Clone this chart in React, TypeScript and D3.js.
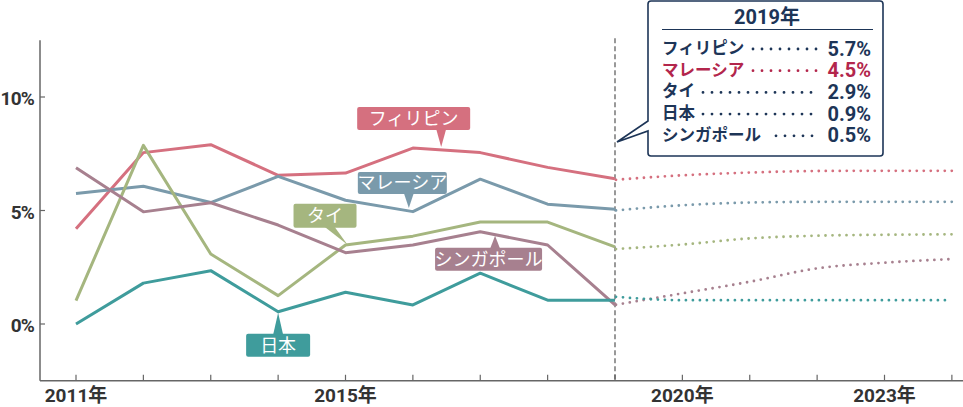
import React from "react";
import * as d3 from "d3";

const years = [2011, 2012, 2013, 2014, 2015, 2016, 2017, 2018, 2019];
const forecastYears = [2019, 2020, 2021, 2022, 2023, 2024];
const seriesNames = ["フィリピン", "マレーシア", "タイ", "シンガポール", "日本"];
const seriesColors = ["#d5707f", "#7a9aab", "#a5b67f", "#a7808f", "#3f9c9c"];
const philippines = [4.2, 7.55, 7.9, 6.55, 6.65, 7.75, 7.55, 6.9, 6.4];
const malaysia = [5.75, 6.07, 5.35, 6.5, 5.45, 4.95, 6.38, 5.28, 5.06];
const thailand = [1.03, 7.87, 3.08, 1.25, 3.48, 3.87, 4.49, 4.49, 3.4];
const singapore = [6.88, 4.94, 5.34, 4.36, 3.14, 3.48, 4.06, 3.48, 0.84];
const japan = [0.0, 1.8, 2.35, 0.54, 1.4, 0.84, 2.24, 1.05, 1.05];
const philippinesF = [6.35, 6.55, 6.67, 6.74, 6.75, 6.75];
const malaysiaF = [5.0, 5.23, 5.35, 5.38, 5.38, 5.38];
const thailandF = [3.3, 3.5, 3.77, 3.89, 3.93, 3.95];
const singaporeF = [0.84, 1.35, 1.86, 2.45, 2.7, 2.86];
const japanF = [1.2, 1.05, 1.05, 1.05, 1.05, 1.05];
const yTicks = [0, 5, 10];
const xTickYears = [2011, 2012, 2013, 2014, 2015, 2016, 2017, 2018, 2019, 2020, 2021, 2022, 2023, 2024];
const xLabelYears = [2011, 2015, 2020, 2023];
const legendTitle = "2019年";
const legendNames = ["フィリピン", "マレーシア", "タイ", "日本", "シンガポール"];
const legendValues = ["5.7%", "4.5%", "2.9%", "0.9%", "0.5%"];
const legendHighlight = [false, true, false, false, false];

const actual = [philippines, malaysia, thailand, singapore, japan];
const forecast = [philippinesF, malaysiaF, thailandF, singaporeF, japanF];

// tag layout: tip year, tip y offset, box relative to tip
const tagLayout = [
  { year: 2016.42, off: -3, dx: -84, dy: -40, w: 113, h: 23, bx: 0 },
  { year: 2015.94, off: -3, dx: -51, dy: -36, w: 89, h: 22, bx: 0 },
  { year: 2015.03, off: 0, dx: -54, dy: -41, w: 63, h: 24, bx: -18 },
  { year: 2017.22, off: 1, dx: -60, dy: 12, w: 107, h: 23, bx: 0 },
  { year: 2014.0, off: 1, dx: -32, dy: 21, w: 64, h: 23, bx: 0 },
];

const W = 963;
const H = 407;
const NAVY = "#1d3557";
const CRIMSON = "#b3264c";
const FONT = "Roboto, 'Noto Sans CJK JP', sans-serif";
const JP = "'Noto Sans CJK JP', sans-serif";

export default function App() {
  const x = d3.scaleLinear().domain([2011, 2019]).range([76, 615]);
  const y = d3.scaleLinear().domain([0, 10]).range([324, 97]);
  const axisLeft = 40;
  const axisBottom = y(-2.5);
  const axisTop = y(12.5);

  const line = d3
    .line<[number, number]>()
    .x((d) => x(d[0]))
    .y((d) => y(d[1]))
    .curve(d3.curveLinear);
  const fline = d3
    .line<[number, number]>()
    .x((d) => x(d[0]))
    .y((d) => y(d[1]))
    .curve(d3.curveMonotoneX);

  const interp = (vals: number[], yr: number) => {
    const i = Math.min(Math.floor(yr - years[0]), vals.length - 2);
    const t = yr - years[i];
    return vals[i] + (vals[i + 1] - vals[i]) * t;
  };

  const legendX = 648;
  const legendR = 883;

  return (
    <svg
      width={W}
      height={H}
      style={{ position: "absolute", left: 0, top: 0, background: "#fff" }}
    >
      {/* axes */}
      <line x1={axisLeft} x2={axisLeft} y1={axisTop} y2={axisBottom} stroke="#666" strokeWidth={1.5} />
      <line x1={axisLeft} x2={W} y1={axisBottom} y2={axisBottom} stroke="#666" strokeWidth={1.5} />
      {yTicks.map((t) => (
        <g key={"yt" + t}>
          <line x1={axisLeft} x2={axisLeft + 5} y1={y(t)} y2={y(t)} stroke="#666" strokeWidth={1.2} />
          <text
            x={34}
            y={y(t) + 8}
            textAnchor="end"
            fontSize={19}
            fontWeight={700}
            fontFamily={FONT}
            fill="#333"
            letterSpacing={-0.8}
          >
            {t}%
          </text>
        </g>
      ))}
      {xTickYears.map((yr) => (
        <line key={"xt" + yr} x1={x(yr)} x2={x(yr)} y1={axisBottom - 6} y2={axisBottom} stroke="#666" strokeWidth={1.2} />
      ))}
      {xLabelYears.map((yr) => (
        <text
          key={"xl" + yr}
          x={x(yr)}
          y={402}
          textAnchor="middle"
          fontSize={19}
          fontWeight={700}
          fontFamily={FONT}
          fill="#333"
        >
          {yr}年
        </text>
      ))}

      {/* 2019 dashed line */}
      <line x1={x(2019)} x2={x(2019)} y1={axisTop - 2} y2={axisBottom} stroke="#555" strokeWidth={1.2} strokeDasharray="5 3" />

      {/* forecast dotted lines */}
      {forecast.map((vals, i) => (
        <path
          key={"f" + i}
          d={fline(forecastYears.map((yr, j) => [yr, vals[j]] as [number, number])) || ""}
          fill="none"
          stroke={seriesColors[i]}
          strokeWidth={2.8}
          strokeLinecap="round"
          strokeDasharray="0 7"
          strokeDashoffset={-8}
        />
      ))}

      {/* actual lines */}
      {actual.map((vals, i) => (
        <path
          key={"a" + i}
          d={line(years.map((yr, j) => [yr, vals[j]] as [number, number])) || ""}
          fill="none"
          stroke={seriesColors[i]}
          strokeWidth={3}
          strokeLinejoin="round"
        />
      ))}

      {/* tags */}
      {tagLayout.map((t, i) => {
        const tx = x(t.year);
        const ty = y(interp(actual[i], t.year)) + t.off;
        const bx = tx + t.dx;
        const by = ty + t.dy;
        const pointerUp = t.dy > 0;
        const baseY = pointerUp ? by + 1 : by + t.h - 1;
        const bc = tx + t.bx;
        return (
          <g key={"tag" + i}>
            <rect x={bx} y={by} width={t.w} height={t.h} rx={2} fill={seriesColors[i]} />
            <path d={`M${bc - 5},${baseY} L${tx},${ty} L${bc + 5},${baseY} Z`} fill={seriesColors[i]} />
            <text
              x={bx + t.w / 2}
              y={by + t.h / 2 + 6.5}
              textAnchor="middle"
              fontSize={18}
              fontFamily={JP}
              fill="#fff"
            >
              {seriesNames[i]}
            </text>
          </g>
        );
      })}

      {/* legend callout */}
      <path
        d={`M${legendX + 3},1 L${legendR - 3},1 Q${legendR},1 ${legendR},4 L${legendR},153 Q${legendR},156 ${legendR - 3},156 L${legendX + 3},156 Q${legendX},156 ${legendX},153 L${legendX},131 L${x(2019) + 2},142 L${legendX},121 L${legendX},4 Q${legendX},1 ${legendX + 3},1 Z`}
        fill="#fff"
        stroke={NAVY}
        strokeWidth={1.6}
      />
      <text x={767} y={24} textAnchor="middle" fontSize={20} fontWeight={700} fontFamily={FONT} fill={NAVY}>
        {legendTitle}
      </text>
      <line x1={662} x2={873} y1={29.5} y2={29.5} stroke={NAVY} strokeWidth={1} />
      {legendNames.map((n, i) => {
        const by = 54 + i * 21.7;
        const col = legendHighlight[i] ? CRIMSON : NAVY;
        const dotStart = [753, 753, 703, 703, 776][i];
        return (
          <g key={"lg" + i}>
            <text x={662} y={by} fontSize={16.5} fontWeight={700} fontFamily={JP} fill={col}>
              {n}
            </text>
            <line
              x1={dotStart}
              x2={818}
              y1={by - 5}
              y2={by - 5}
              stroke={col}
              strokeWidth={2.8}
              strokeLinecap="round"
              strokeDasharray="0 9"
            />
            <text x={871} y={by + 1.5} textAnchor="end" fontSize={20} fontWeight={700} fontFamily={FONT} fill={col}>
              {legendValues[i]}
            </text>
          </g>
        );
      })}
    </svg>
  );
}
